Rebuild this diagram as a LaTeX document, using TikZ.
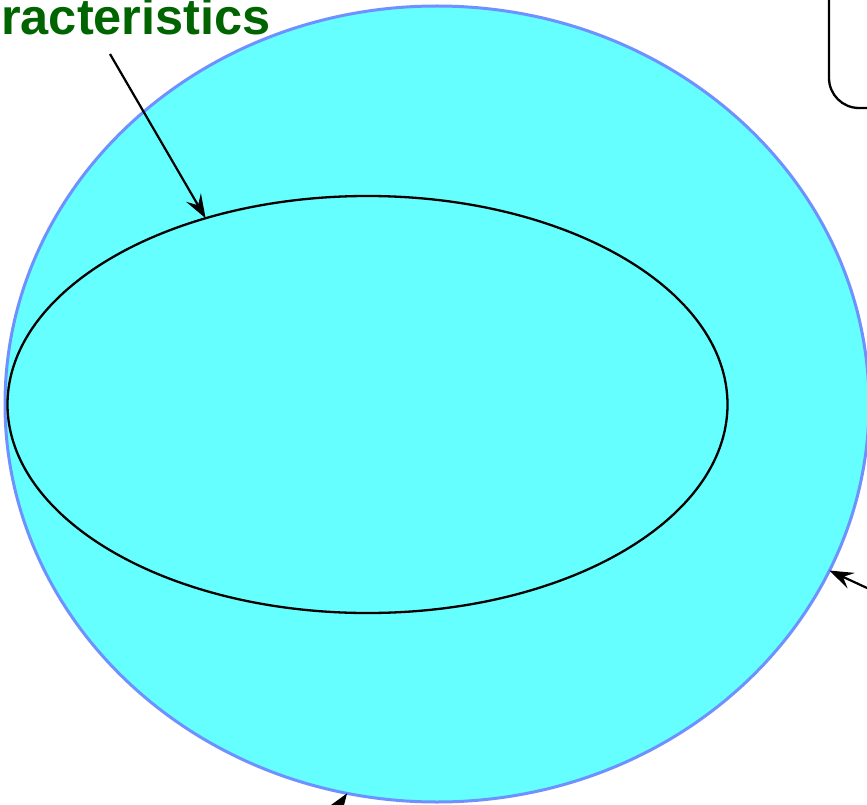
\documentclass[tikz,border=0pt]{standalone}
\usepackage{fontspec}
\setmainfont{Liberation Sans}
\usetikzlibrary{arrows.meta,shapes.geometric}
\definecolor{fillcyan}{RGB}{102,255,255}
\definecolor{rimblue}{RGB}{110,145,255}
\definecolor{labelgreen}{RGB}{0,100,0}
\tikzset{
  pointer/.style={line width=2.2pt,-{Stealth[length=24pt,width=17pt,inset=9pt]}},
  region/.style={ellipse,outer sep=0pt,inner sep=0pt},
  boxedge/.style={draw=black,line width=2.3pt,rounded corners=30pt},
}
\begin{document}
\begin{tikzpicture}[x=1pt,y=-1pt]
\useasboundingbox (0,0) rectangle (867,805);
\begin{scope}
\clip (0,0) rectangle (867,805);
\node[region,draw=rimblue,fill=fillcyan,line width=3pt,minimum width=864pt,minimum height=796pt] (outer) at (437,404) {};
\node[region,draw=black,line width=2.3pt,minimum width=720pt,minimum height=417pt] (inner) at (367.5,404.5) {};
\coordinate (b1) at (829,-60);
\coordinate (b2) at (829,108);
\coordinate (b3) at (960,108);
\draw[boxedge] (b1) -- (b2) -- (b3);
\node[anchor=base west,inner sep=0pt,text=labelgreen,font=\fontsize{50.5}{60}\selectfont\bfseries] (label) at (1,35) {racteristics};
\coordinate (s1) at (110,54);
\coordinate (s2) at (880,594);
\coordinate (s3) at (322,830);
\draw[pointer] (s1) -- (inner.131);
\draw[pointer] (s2) -- (outer.-23);
\draw[pointer] (s3) -- (outer.-103);
\end{scope}
\end{tikzpicture}
\end{document}
